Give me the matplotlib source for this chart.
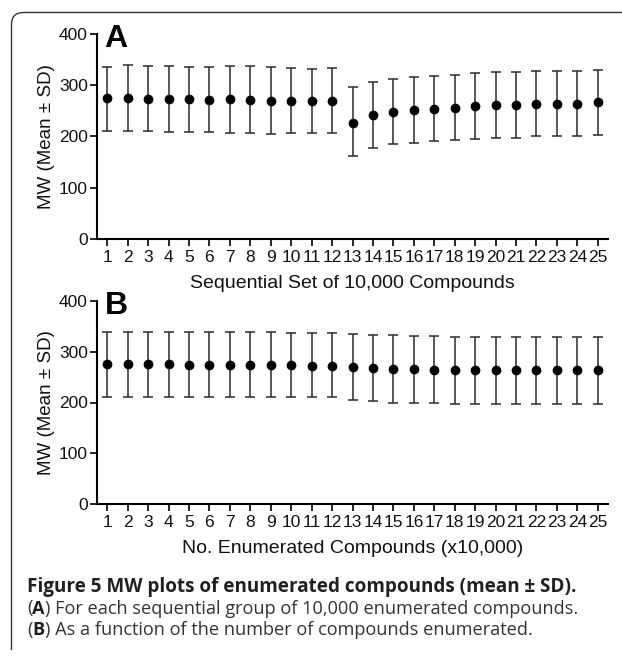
import matplotlib
matplotlib.use("Agg")
import matplotlib.pyplot as plt
import numpy as np
from matplotlib.path import Path
from matplotlib.patches import PathPatch
from matplotlib.transforms import IdentityTransform

# ---------------- data ----------------
sets = list(range(1, 26))
tick_labels = [str(i) for i in sets]

a_mean = [274.5, 276, 274, 273, 272.5, 272, 272.5, 272, 270, 270, 269, 270,
          227, 242, 248, 252, 254, 256, 259, 261, 261, 263, 263, 264, 267]
a_upper = [336, 339, 338, 338, 336, 335, 338, 337, 335, 334, 332, 333,
           296, 307, 312, 317, 318, 320, 323, 325, 326, 328, 327, 328, 330]
a_lower = [211, 211, 211, 209, 209, 208, 207.5, 207, 205, 206, 206, 206,
           161, 178, 185, 187, 191, 193, 195, 198, 198, 200, 200, 201, 202]

b_mean = [275, 275, 275, 275, 274.5, 274.5, 274, 274, 273.5, 273, 272.5, 272,
          270, 267, 266, 265, 264.5, 264, 264, 264, 264, 263.5, 263.5, 263.5, 263.5]
b_upper = [338, 338, 338, 338, 338, 338, 338, 338, 338, 337.5, 337, 337,
           335, 333, 332, 331, 330, 329, 329, 329, 329, 329, 329, 329, 329]
b_lower = [211.5, 211.5, 211, 211, 211, 211, 211, 210.5, 210.5, 210, 210, 210,
           205, 202, 200, 200, 199, 198, 198, 198, 198, 198, 198, 198, 198]

y_ticks = [0, 100, 200, 300, 400]
ylabel = "MW (Mean \u00b1 SD)"
xlabel_a = "Sequential Set of 10,000 Compounds"
xlabel_b = "No. Enumerated Compounds (x10,000)"
caption_title = "Figure 5 MW plots of enumerated compounds (mean \u00b1 SD)."
caption_a = ") For each sequential group of 10,000 enumerated compounds."
caption_b = ") As a function of the number of compounds enumerated."

# ---------------- figure ----------------
W, H = 622, 656
DPI = 100
fig = plt.figure(figsize=(W / DPI, H / DPI), dpi=DPI)
fig.patch.set_facecolor("white")

axfont = "Liberation Sans"
capfont = "Open Sans"


def px_axes(left, right, top, bottom):
    return fig.add_axes([left / W, 1 - bottom / H, (right - left) / W, (bottom - top) / H])


def draw_panel(ax, mean, upper, lower, xlabel, letter):
    mean = np.array(mean)
    yerr = [mean - np.array(lower), np.array(upper) - mean]
    ax.errorbar(sets, mean, yerr=yerr, fmt="o", color="black", ecolor="#2a2a2a",
                elinewidth=1.1, capsize=3.8, capthick=1.1, markersize=6,
                clip_on=False)
    ax.set_xlim(0.5, 25.5)
    ax.set_ylim(0, 400)
    ax.set_yticks(y_ticks)
    ax.set_xticks(sets)
    ax.set_xticklabels(tick_labels)
    for s in ["top", "right"]:
        ax.spines[s].set_visible(False)
    for s in ["left", "bottom"]:
        ax.spines[s].set_linewidth(1.5)
        ax.spines[s].set_color("black")
    ax.tick_params(axis="y", direction="out", length=5, width=1.2, pad=1.5,
                   labelsize=12.5)
    ax.tick_params(axis="x", direction="out", length=5, width=1.2, pad=3,
                   labelsize=12.5)
    for lab in ax.get_xticklabels() + ax.get_yticklabels():
        lab.set_fontfamily(axfont)
        lab.set_color("#111111")
    ax.set_ylabel(ylabel, fontfamily=axfont, fontsize=13.5, color="#111111")
    ax.yaxis.set_label_coords(-0.082, 0.5)
    ax.set_xlabel(xlabel, fontfamily=axfont, fontsize=14, color="#111111")
    ax.xaxis.set_label_coords(0.5, -0.177)
    ax.text(0.015, 0.975, letter, transform=ax.transAxes, fontfamily=axfont,
            fontweight="bold", fontsize=23, va="center", ha="left", color="black")
    ax.patch.set_alpha(0)


ax_a = px_axes(97, 608, 34, 239)
draw_panel(ax_a, a_mean, a_upper, a_lower, xlabel_a, "A")
ax_b = px_axes(97, 608, 300.7, 504.3)
draw_panel(ax_b, b_mean, b_upper, b_lower, xlabel_b, "B")

# ---------------- border (open at right and bottom) ----------------
x0, ytop, r = 11.5, H - 12.5, 12
verts = [(x0, H - 650), (x0, ytop - r), (x0, ytop), (x0 + r, ytop), (W + 2, ytop)]
codes = [Path.MOVETO, Path.LINETO, Path.CURVE3, Path.CURVE3, Path.LINETO]
fig.patches.append(PathPatch(Path(verts, codes), transform=IdentityTransform(),
                             fill=False, edgecolor="#333333", linewidth=1.0, figure=fig))

# ---------------- caption ----------------
cx = 27 / W
t1 = fig.text(cx, 1 - 587 / H, caption_title, fontfamily=capfont, fontweight="bold",
              fontsize=13.6, va="center", ha="left", color="#231f20")


def caption_line(y_px, letter, rest):
    t = fig.text(cx, 1 - y_px / H, "(", fontfamily=capfont, fontsize=13.1,
                 va="center", ha="left", color="#333333")
    t2 = fig.text(0, 0, letter, fontfamily=capfont, fontweight="bold", fontsize=13.1,
                  va="center", ha="left", color="#231f20")
    t3 = fig.text(0, 0, rest, fontfamily=capfont, fontsize=13.1,
                  va="center", ha="left", color="#333333")
    return t, t2, t3


lines = [caption_line(608.5, "A", caption_a), caption_line(630, "B", caption_b)]

fig.canvas.draw()
renderer = fig.canvas.get_renderer()
inv = fig.transFigure.inverted()
for t, t2, t3 in lines:
    bb = t.get_window_extent(renderer)
    x_end = inv.transform((bb.x1, 0))[0]
    t2.set_position((x_end, t.get_position()[1]))
    bb2 = t2.get_window_extent(renderer)
    x_end2 = inv.transform((bb2.x1, 0))[0]
    t3.set_position((x_end2, t.get_position()[1]))

fig.savefig("out.png", dpi=DPI, facecolor="white")
